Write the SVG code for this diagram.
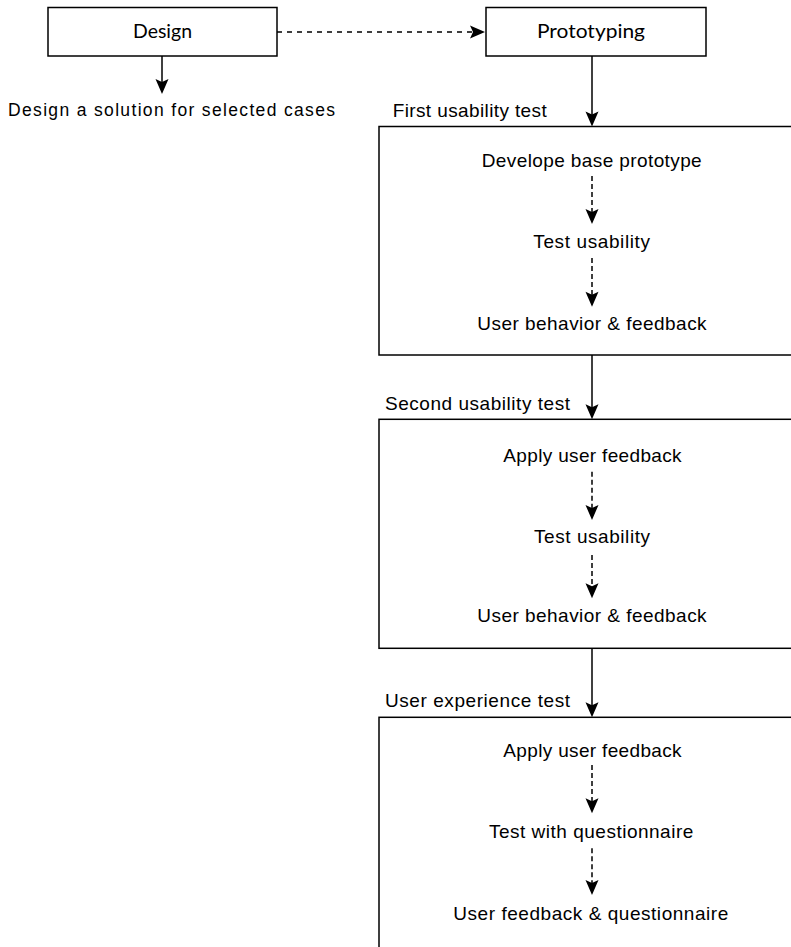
<svg xmlns="http://www.w3.org/2000/svg" width="791" height="947" viewBox="0 0 791 947">
<style>
.box{fill:#fff;stroke:#000;stroke-width:1.5}
.c{fill:none;stroke:#000;stroke-width:1.5}
.dh{stroke-dasharray:5 5}
.dv{stroke-dasharray:5 3}
.t{font-family:"Liberation Sans",Arial,sans-serif;font-size:19px;fill:#000}
.tb{font-family:Lato,"Liberation Sans",sans-serif;font-size:19px;fill:#000}
</style>
<defs>
<marker id="ah" markerUnits="userSpaceOnUse" markerWidth="20" markerHeight="20" viewBox="-10 -10 20 20" refX="0" refY="0" orient="auto" overflow="visible">
<path d="M8,0 L-7,-6.5 L-4,0 L-7,6.5 Z" fill="#000"/>
</marker>
</defs>
<rect width="791" height="947" fill="#fff"/>
<g id="design">
<rect class="box" x="48" y="7.5" width="229" height="48.5"/>
<text class="tb" x="133" y="38" textLength="59" lengthAdjust="spacingAndGlyphs">Design</text>
</g>
<g id="design-note">
<text class="t" style="font-size:17.5px" x="8" y="116" textLength="327" lengthAdjust="spacing">Design a solution for selected cases</text>
</g>
<g id="prototyping">
<rect class="box" x="486" y="7.5" width="220" height="48.5"/>
<text class="tb" x="537" y="38" textLength="108" lengthAdjust="spacingAndGlyphs">Prototyping</text>
</g>
<g id="first-test">
<text class="t" x="392.7" y="117" textLength="154" lengthAdjust="spacing">First usability test</text>
<rect class="box" x="379" y="126.5" width="430" height="228.5"/>
<text class="t" x="481.7" y="166.7" textLength="220" lengthAdjust="spacing">Develope base prototype</text>
<text class="t" x="533.3" y="248.3" textLength="116.7" lengthAdjust="spacing">Test usability</text>
<text class="t" x="477.3" y="330" textLength="229.3" lengthAdjust="spacing">User behavior &amp; feedback</text>
</g>
<g id="second-test">
<text class="t" x="385" y="410" textLength="185" lengthAdjust="spacing">Second usability test</text>
<rect class="box" x="379" y="419.3" width="430" height="229"/>
<text class="t" x="503.3" y="461.5" textLength="178.3" lengthAdjust="spacing">Apply user feedback</text>
<text class="t" x="534" y="543.3" textLength="116" lengthAdjust="spacing">Test usability</text>
<text class="t" x="477.3" y="621.7" textLength="229.3" lengthAdjust="spacing">User behavior &amp; feedback</text>
</g>
<g id="ux-test">
<text class="t" x="385" y="706.7" textLength="185" lengthAdjust="spacing">User experience test</text>
<rect class="box" x="379" y="717.3" width="430" height="260"/>
<text class="t" x="503.3" y="756.7" textLength="178.3" lengthAdjust="spacing">Apply user feedback</text>
<text class="t" x="489" y="838.3" textLength="204.3" lengthAdjust="spacing">Test with questionnaire</text>
<text class="t" x="453.3" y="920" textLength="275" lengthAdjust="spacing">User feedback &amp; questionnaire</text>
</g>
<g id="connectors">
<line class="c dh" x1="277" y1="32" x2="477" y2="32" marker-end="url(#ah)"/>
<line class="c" x1="162" y1="56" x2="162" y2="86" marker-end="url(#ah)"/>
<line class="c" x1="592" y1="56" x2="592" y2="118.5" marker-end="url(#ah)"/>
<line class="c" x1="592" y1="355" x2="592" y2="411.3" marker-end="url(#ah)"/>
<line class="c" x1="592" y1="648.3" x2="592" y2="709.3" marker-end="url(#ah)"/>
<line class="c dv" x1="592" y1="176" x2="592" y2="216" marker-end="url(#ah)"/>
<line class="c dv" x1="592" y1="258" x2="592" y2="298.7" marker-end="url(#ah)"/>
<line class="c dv" x1="592" y1="471.7" x2="592" y2="512" marker-end="url(#ah)"/>
<line class="c dv" x1="592" y1="555" x2="592" y2="590.3" marker-end="url(#ah)"/>
<line class="c dv" x1="592" y1="765" x2="592" y2="805.3" marker-end="url(#ah)"/>
<line class="c dv" x1="592" y1="848.3" x2="592" y2="887" marker-end="url(#ah)"/>
</g>
</svg>
